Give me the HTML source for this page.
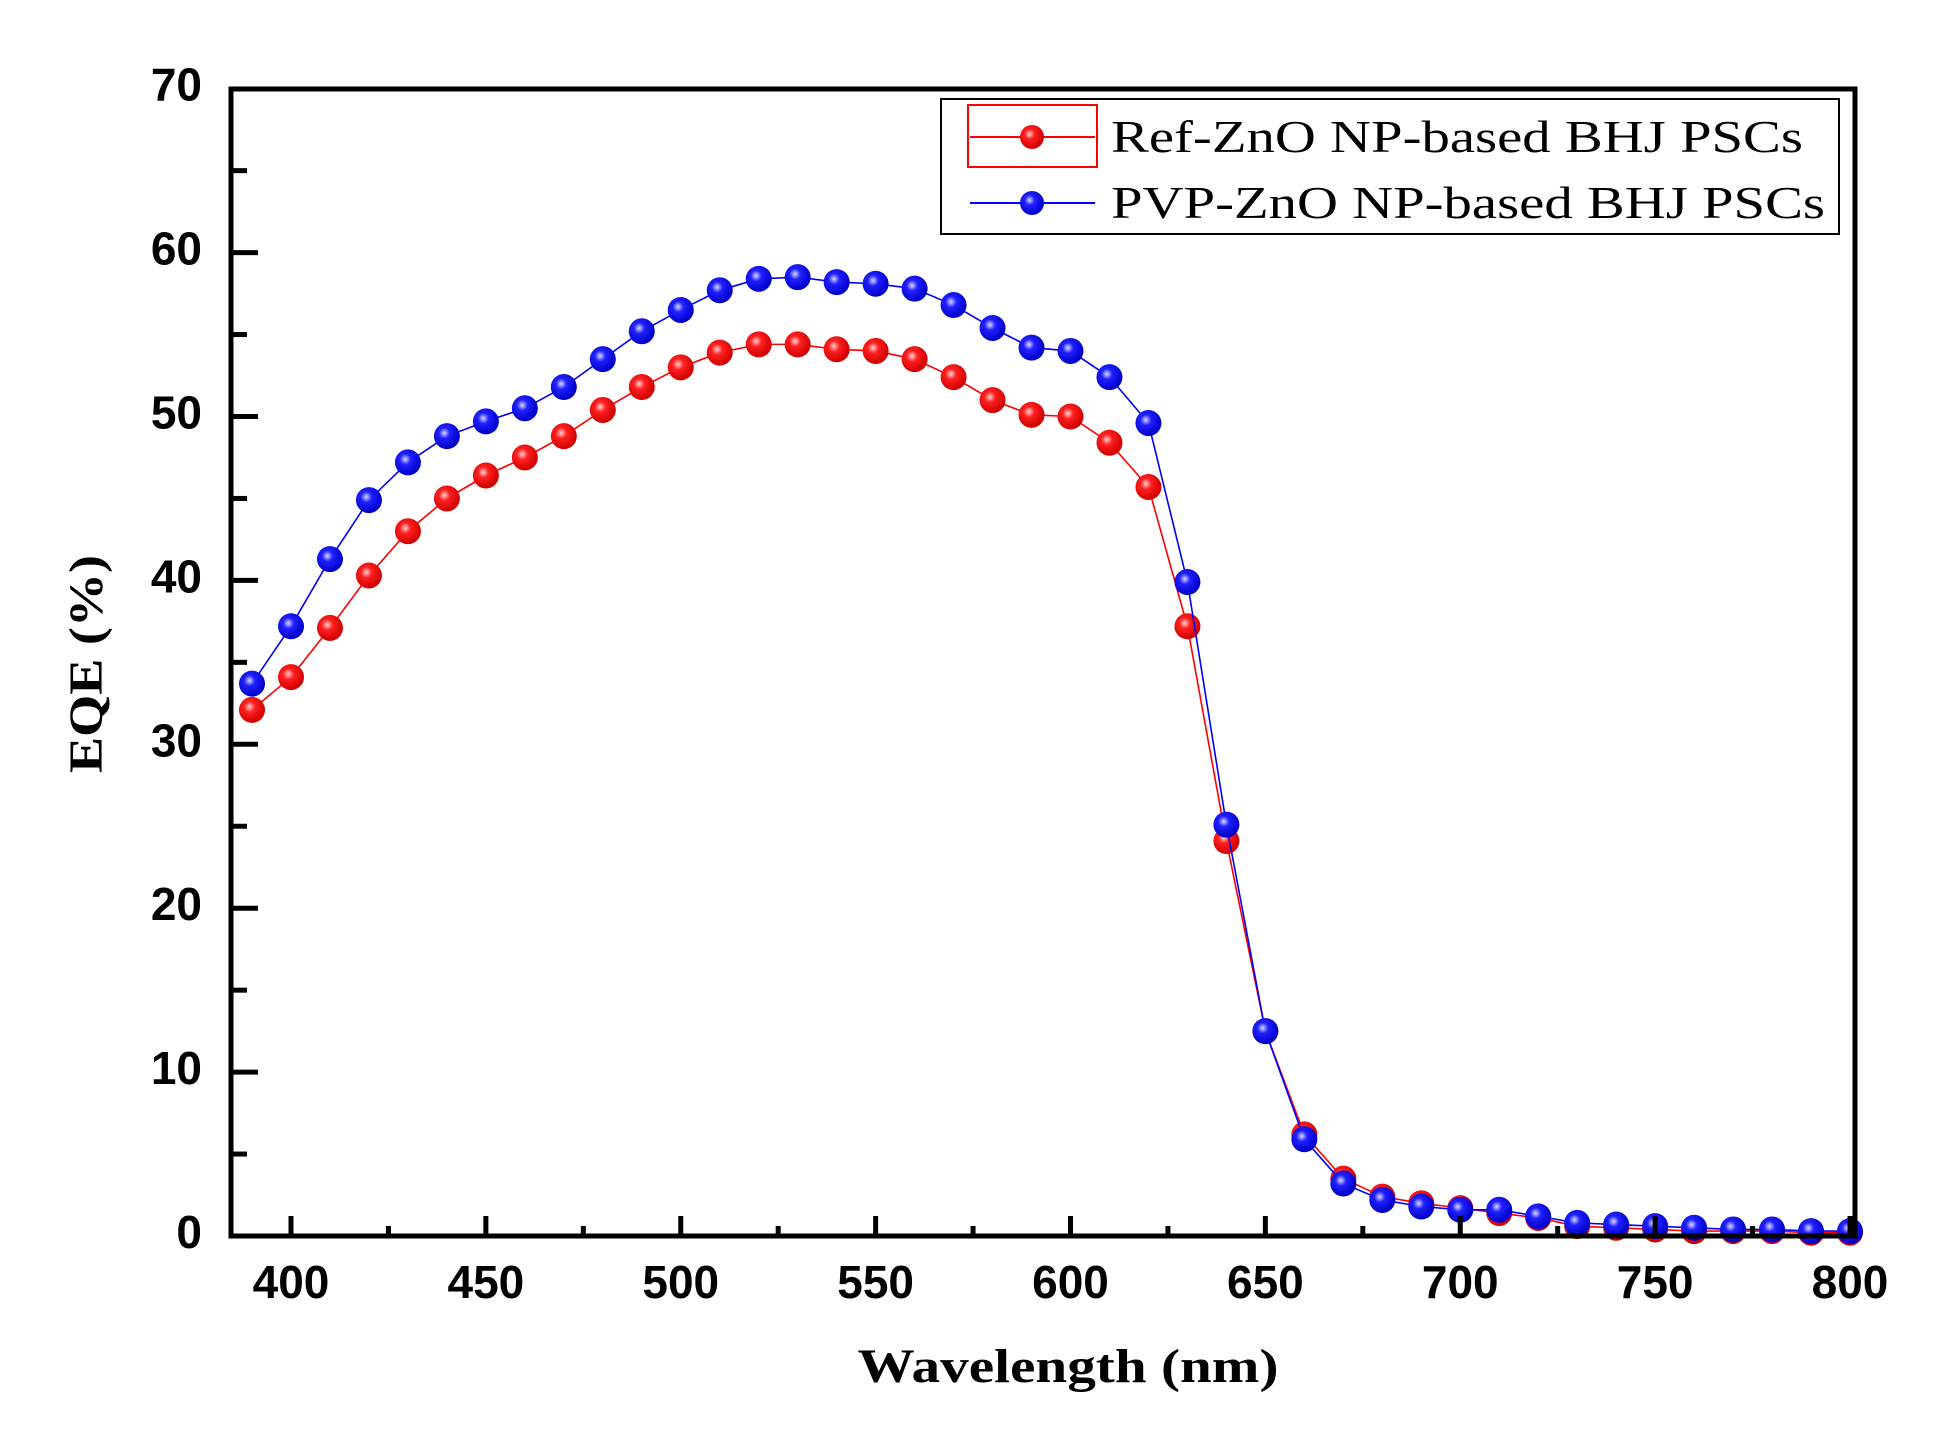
<!DOCTYPE html>
<html><head><meta charset="utf-8"><style>html,body{margin:0;padding:0;background:#fff;}svg{display:block;}</style></head>
<body>
<svg width="1946" height="1441" viewBox="0 0 1946 1441" xmlns="http://www.w3.org/2000/svg">
<defs>
<radialGradient id="gr" cx="0.4" cy="0.38" r="0.6"><stop offset="0" stop-color="#ffd0d0"/><stop offset="0.35" stop-color="#ff2020"/><stop offset="1" stop-color="#d00000"/></radialGradient>
<radialGradient id="gb" cx="0.4" cy="0.38" r="0.6"><stop offset="0" stop-color="#d8d8ff"/><stop offset="0.35" stop-color="#2020ff"/><stop offset="1" stop-color="#0000c8"/></radialGradient>
</defs>
<g id="plot"></g>
<rect x="231" y="89" width="1624" height="1147" fill="none" stroke="#000" stroke-width="5"/>
<g id="ticks" stroke="#000" stroke-width="5"></g>
<g font-family="Liberation Sans, Arial, sans-serif" font-weight="bold" font-size="46" fill="#000" id="labels"></g>
<text x="1068" y="1382" font-family="Liberation Serif, serif" font-weight="bold" font-size="48" text-anchor="middle" textLength="421" lengthAdjust="spacingAndGlyphs">Wavelength (nm)</text>
<text transform="translate(102,664) rotate(-90)" font-family="Liberation Serif, serif" font-weight="bold" font-size="48" text-anchor="middle" textLength="218" lengthAdjust="spacingAndGlyphs">EQE (%)</text>
<rect x="941" y="99" width="898" height="135" fill="#fff" stroke="#000" stroke-width="2"/>
<rect x="968" y="105" width="129" height="62" fill="none" stroke="#f00" stroke-width="2"/>
<line x1="970" y1="137" x2="1095" y2="137" stroke="#f00" stroke-width="2"/>
<line x1="970" y1="203" x2="1095" y2="203" stroke="#00f" stroke-width="2"/>
<circle cx="1032" cy="137" r="12" fill="url(#gr)"/>
<circle cx="1032" cy="203" r="12" fill="url(#gb)"/>
<text x="1111" y="152" font-family="Liberation Serif, serif" font-size="46" textLength="692" lengthAdjust="spacingAndGlyphs">Ref-ZnO NP-based BHJ PSCs</text>
<text x="1111" y="218" font-family="Liberation Serif, serif" font-size="46" textLength="714" lengthAdjust="spacingAndGlyphs">PVP-ZnO NP-based BHJ PSCs</text>
<script>
const NS="http://www.w3.org/2000/svg";
const X=nm=>291+(nm-400)*3.8975, Y=v=>1236-v*16.39;
const red=[32.1,34.1,37.1,40.3,43.0,45.0,46.4,47.5,48.8,50.4,51.8,53.0,53.9,54.4,54.4,54.1,54.0,53.5,52.4,51.0,50.1,50.0,48.4,45.7,37.2,24.1,12.5,6.2,3.5,2.4,2.0,1.7,1.4,1.1,0.6,0.5,0.4,0.3,0.3,0.3,0.2,0.2];
const blue=[33.7,37.2,41.3,44.9,47.2,48.8,49.7,50.5,51.8,53.5,55.2,56.5,57.7,58.4,58.5,58.2,58.1,57.8,56.8,55.4,54.2,54.0,52.4,49.6,39.9,25.1,12.5,5.9,3.2,2.2,1.8,1.6,1.6,1.2,0.8,0.7,0.6,0.5,0.4,0.4,0.3,0.3];
const g=document.getElementById('plot');
function el(t,a,p){const e=document.createElementNS(NS,t);for(const k in a)e.setAttribute(k,a[k]);(p||g).appendChild(e);return e;}
function series(d,col,grad){
 el('polyline',{points:d.map((v,i)=>X(390+10*i)+','+Y(v)).join(' '),fill:'none',stroke:col,'stroke-width':1.6});
 d.forEach((v,i)=>el('circle',{cx:X(390+10*i),cy:Y(v),r:13,fill:'url(#'+grad+')'}));
}
series(red,'#f00','gr');series(blue,'#00f','gb');
const t=document.getElementById('ticks'),L=document.getElementById('labels');
for(let nm=400;nm<=800;nm+=25){const maj=nm%50==0;el('line',{x1:X(nm),x2:X(nm),y1:1236,y2:1236-(maj?20:10)},t);
 if(maj){const s=el('text',{x:X(nm),y:1298,'text-anchor':'middle'},L);s.textContent=nm;}}
for(let v=5;v<70;v+=5){const maj=v%10==0;el('line',{x1:231,x2:231+(maj?27:16),y1:Y(v),y2:Y(v)},t);}
for(let v=0;v<=70;v+=10){const s=el('text',{x:202,y:Y(v)+12,'text-anchor':'end'},L);s.textContent=v;}
</script>
</svg>
</body></html>
